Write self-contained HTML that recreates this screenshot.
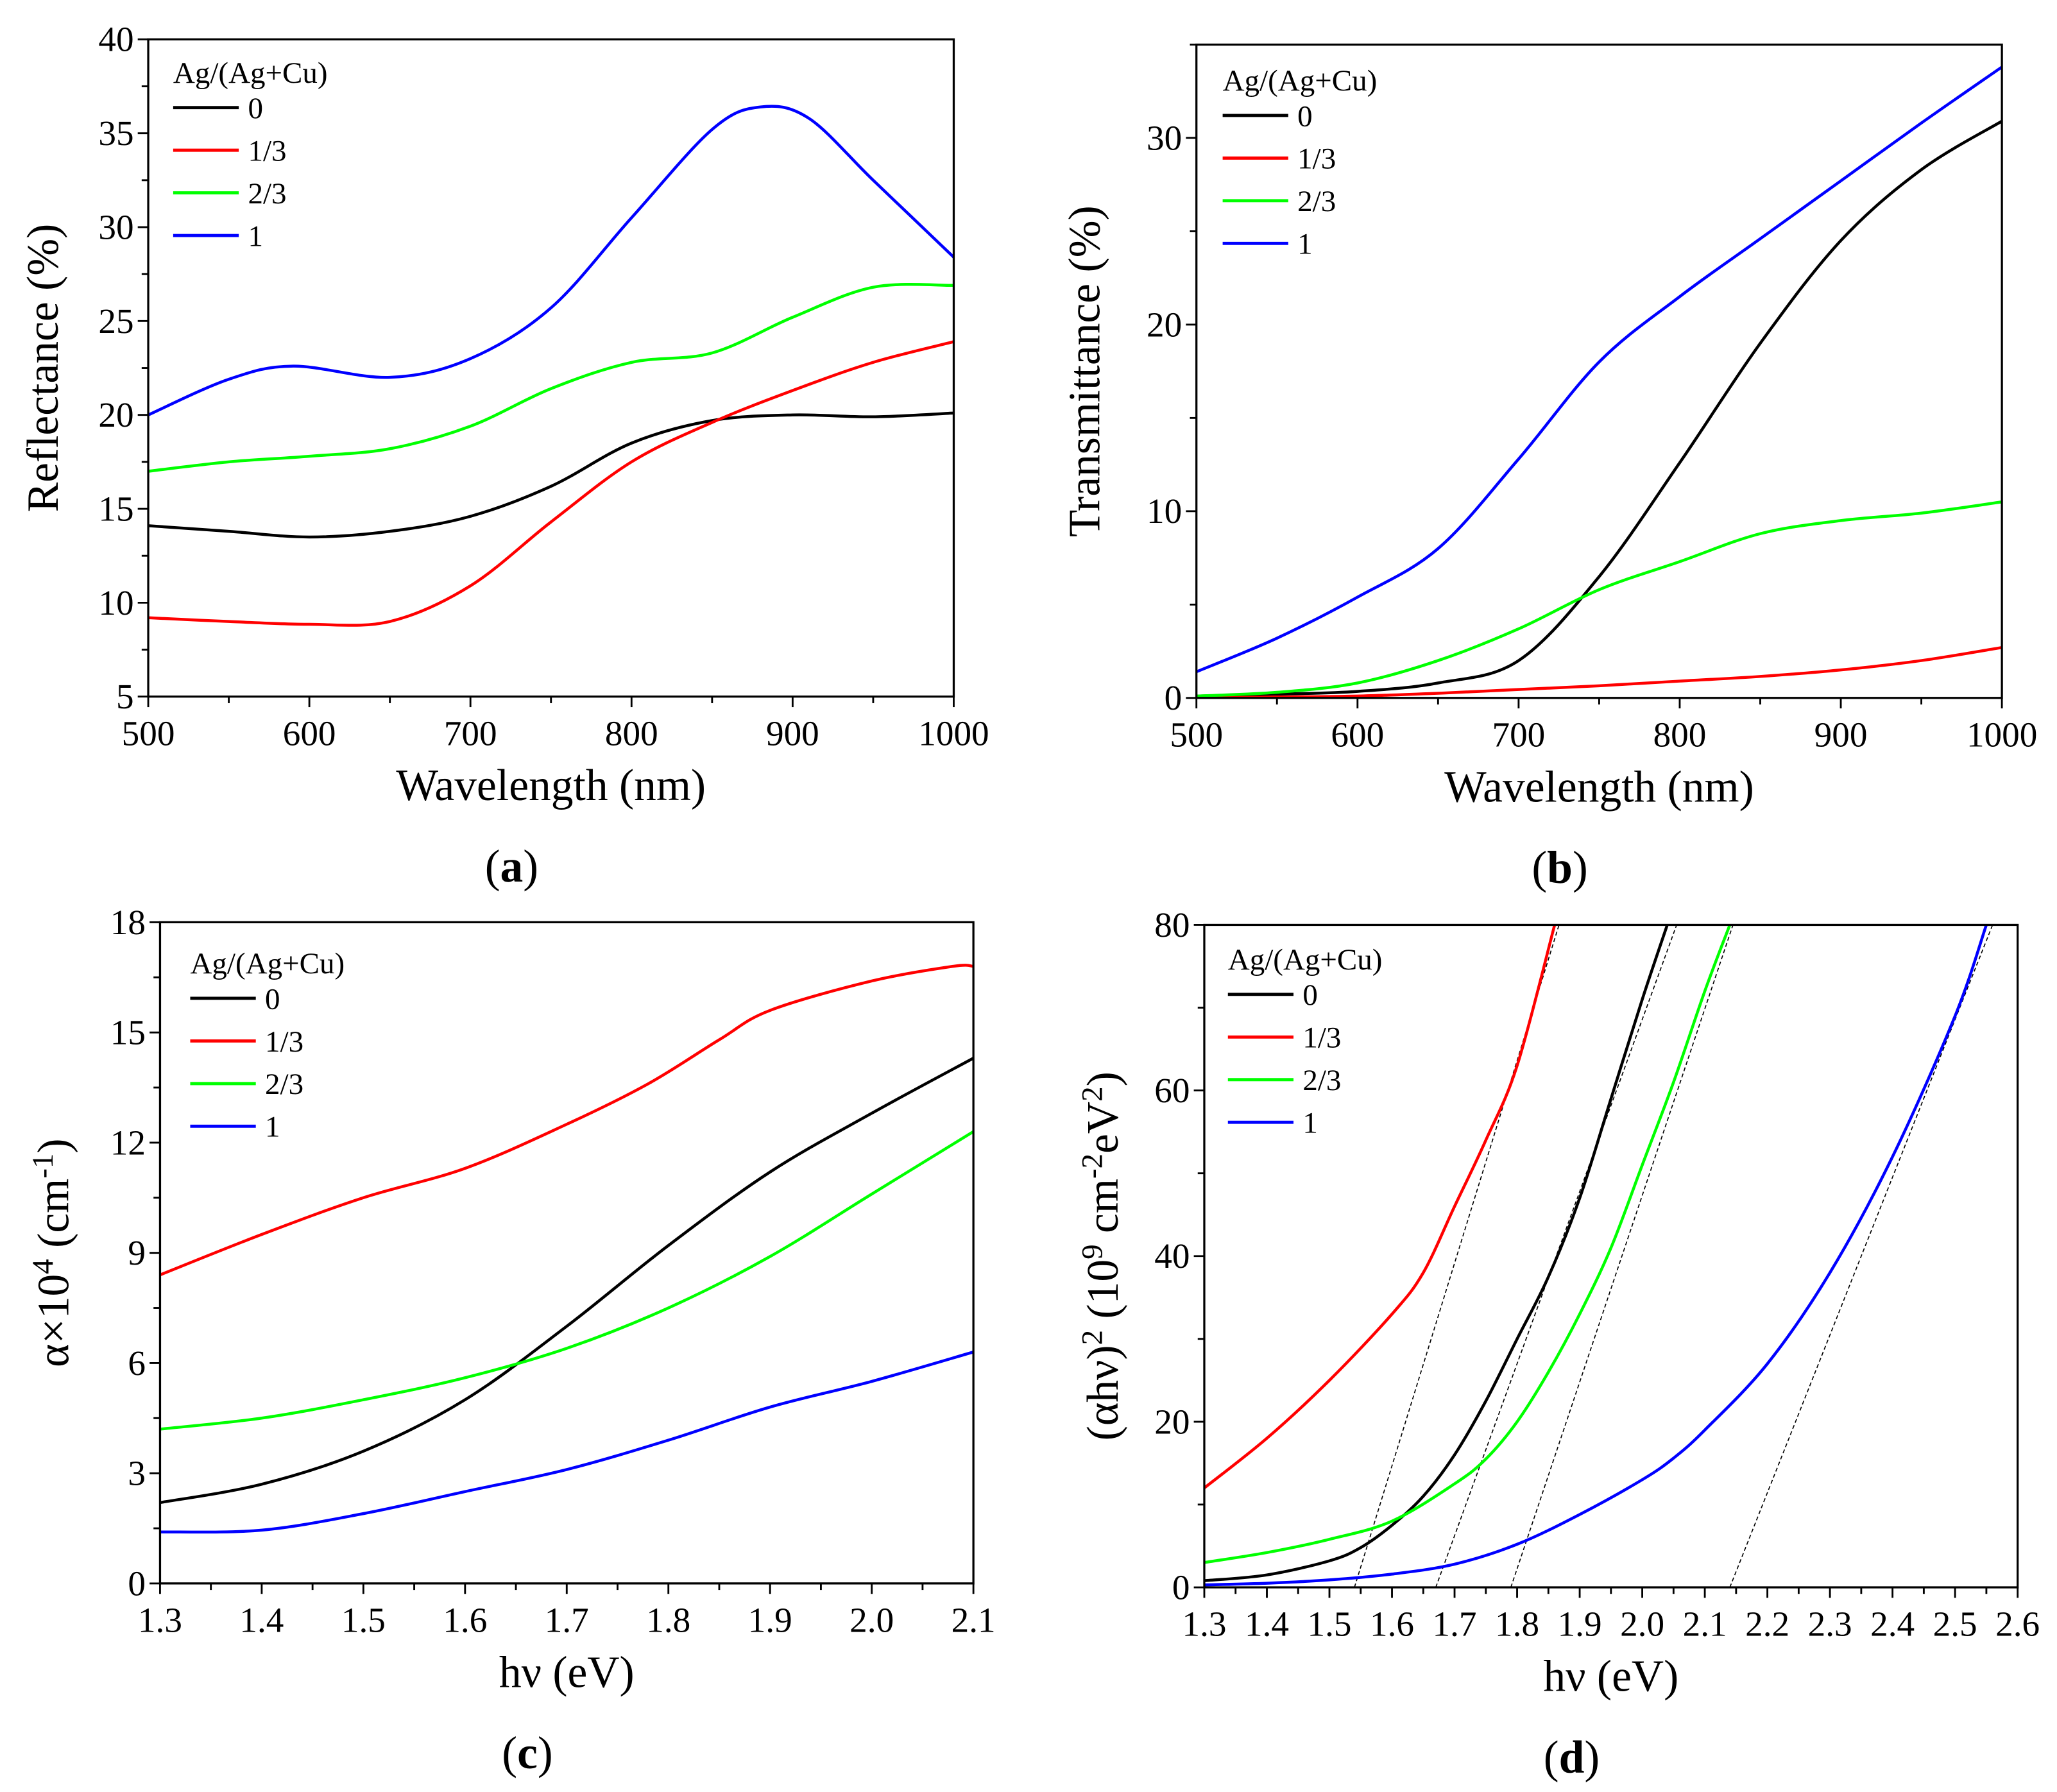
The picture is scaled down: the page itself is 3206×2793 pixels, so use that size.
<!DOCTYPE html>
<html><head><meta charset="utf-8"><style>
html,body{margin:0;padding:0;background:#fff;}
svg{display:block;font-family:"Liberation Serif",serif;}
svg text{font-family:"Liberation Serif",serif;}
</style></head><body>
<svg id="fig" width="3206" height="2793" viewBox="0 0 1568 1366" xmlns="http://www.w3.org/2000/svg"></svg>
<script>
// ---- Panel (a) Reflectance ----
const aWl = [500,550,600,650,700,750,800,850,900,950,1000];
const aBlack = [14.1,13.8,13.5,13.8,14.6,16.2,18.5,19.7,20.0,19.9,20.1];
const aRed = [9.2,9.0,8.85,9.0,10.9,14.3,17.5,19.6,21.3,22.8,23.9];
const aGreen = [17.0,17.5,17.8,18.2,19.4,21.4,22.8,23.3,25.2,26.8,26.9];
const aBlueWl = [500,550,590,650,700,750,800,850,880,910,950,1000];
const aBlue = [20.0,21.9,22.6,22.0,23.0,25.7,30.5,35.2,36.4,35.8,32.5,28.4];
// ---- Panel (b) Transmittance ----
const bWl = [500,550,600,650,700,750,800,850,900,950,1000];
const bBlack = [0.1,0.2,0.35,0.8,2.0,6.5,12.6,19.0,24.5,28.3,30.9];
const bRed = [0.0,0.05,0.1,0.25,0.45,0.65,0.9,1.15,1.5,2.0,2.7];
const bGreen = [0.1,0.3,0.8,2.0,3.7,5.8,7.3,8.8,9.5,9.9,10.5];
const bBlue = [1.4,3.2,5.4,8.0,12.8,18.0,21.5,24.6,27.7,30.8,33.8];
// ---- Panel (c) absorption ----
const cE = [1.3,1.4,1.5,1.6,1.7,1.8,1.9,2.0,2.1];
const cBlack = [2.2,2.7,3.6,5.0,7.0,9.2,11.2,12.8,14.3];
const cRedE = [1.3,1.4,1.5,1.6,1.7,1.78,1.85,1.9,2.0,2.08,2.1];
const cRed = [8.4,9.5,10.5,11.3,12.5,13.6,14.8,15.6,16.4,16.8,16.8];
const cGreen = [4.2,4.5,5.0,5.6,6.4,7.5,8.9,10.6,12.3];
const cBlue = [1.4,1.45,1.9,2.5,3.1,3.9,4.8,5.5,6.3];
// ---- Panel (d) Tauc ----
const dRedE = [1.3,1.4,1.5,1.6,1.65,1.7,1.75,1.8,1.86];
const dRed = [12,18,25,33,38,46,54,63,80];
const dBlackE = [1.3,1.4,1.5,1.55,1.6,1.65,1.7,1.75,1.8,1.85,1.9,1.95,2.0,2.04];
const dBlack = [0.8,1.5,3.2,4.8,7.5,11,16,22.5,30,37.5,47,59,71,80];
const dGreenE = [1.3,1.4,1.5,1.6,1.7,1.75,1.8,1.85,1.9,1.95,2.0,2.05,2.1,2.14];
const dGreen = [3,4.2,5.8,8,12.5,15.5,20,26,33,41,51,61,72,80];
const dBlueE = [1.3,1.4,1.5,1.6,1.7,1.8,1.9,2.0,2.05,2.1,2.2,2.3,2.4,2.5,2.55];
const dBlue = [0.3,0.5,0.9,1.6,2.8,5.2,8.8,13,15.6,19,27,38,52,69,80];
const dFitStart = [1.54,1.67,1.79,2.14];
const dFitEnd = [1.867,2.055,2.145,2.56];
const legendLabels = ["0","1/3","2/3","1"];
const colors = ["#000","#f00","#0f0","#00f"];

const NS="http://www.w3.org/2000/svg";
const svg=document.getElementById('fig');
function el(tag,attrs,parent){const e=document.createElementNS(NS,tag);for(const k in attrs)e.setAttribute(k,attrs[k]);(parent||svg).appendChild(e);return e;}
function txt(s,x,y,size,anchor,parent,extra){const t=el('text',Object.assign({x:x,y:y,'font-size':size,'text-anchor':anchor||'middle',fill:'#000'},extra||{}),parent);t.textContent=s;return t;}
function smooth(pts){let d='M'+pts[0][0].toFixed(2)+','+pts[0][1].toFixed(2);
 for(let i=0;i<pts.length-1;i++){const p0=pts[i-1]||pts[i],p1=pts[i],p2=pts[i+1],p3=pts[i+2]||p2;
  const c1=[p1[0]+(p2[0]-p0[0])/6,p1[1]+(p2[1]-p0[1])/6],c2=[p2[0]-(p3[0]-p1[0])/6,p2[1]-(p3[1]-p1[1])/6];
  d+=' C'+c1.map(v=>v.toFixed(2))+' '+c2.map(v=>v.toFixed(2))+' '+p2[0].toFixed(2)+','+p2[1].toFixed(2);}
 return d;}

function panel(cfg){
 const g=el('g',{});
 
 
 const X=v=>cfg.x0+(v-cfg.xmin)/(cfg.xmax-cfg.xmin)*(cfg.x1-cfg.x0);
 const Y=v=>cfg.y0-(v-cfg.ymin)/(cfg.ymax-cfg.ymin)*(cfg.y0-cfg.y1);
 const clip='clip-'+cfg.id;
 const cp=el('clipPath',{id:clip},g);el('rect',{x:cfg.x0,y:cfg.y1,width:cfg.x1-cfg.x0,height:cfg.y0-cfg.y1},cp);
 const plot=el('g',{'clip-path':'url(#'+clip+')'},g);
 
 
 (cfg.fits||[]).forEach(f=>{const l=el('line',{x1:X(f[0]),y1:Y(f[1]),x2:X(f[2]),y2:Y(f[3]),stroke:'#000','stroke-width':0.8,'stroke-dasharray':'3,2'},plot);
  
  });
 cfg.series.forEach((s,i)=>{const pts=s.x.map((v,j)=>[X(v),Y(s.y[j])]);
  const p=el('path',{d:smooth(pts),fill:'none',stroke:colors[i],'stroke-width':2.2},plot);
  
  });
 const ax=el('rect',{x:cfg.x0,y:cfg.y1,width:cfg.x1-cfg.x0,height:cfg.y0-cfg.y1,fill:'none',stroke:'#000','stroke-width':1.6},g);
 
 
 const xt=el('g',{},g);
 
 
 for(let v=cfg.xmin;v<=cfg.xmax+1e-9;v+=cfg.xstep/2){const major=Math.abs(Math.round((v-cfg.xmin)/cfg.xstep)*cfg.xstep-(v-cfg.xmin))<1e-6;
  el('line',{x1:X(v),x2:X(v),y1:cfg.y0,y2:cfg.y0+(major?8:5),stroke:'#000','stroke-width':1.4},xt);
  if(major)txt(cfg.xfmt(v),X(v),cfg.y0+37,cfg.tickSize,'middle',xt);}
 const yt=el('g',{},g);
 
 
 for(let v=cfg.ymin;v<=cfg.ymax+1e-9;v+=cfg.ystep/2){const major=Math.abs(Math.round((v-cfg.ymin)/cfg.ystep)*cfg.ystep-(v-cfg.ymin))<1e-6;
  el('line',{x1:cfg.x0,x2:cfg.x0-(major?8:5),y1:Y(v),y2:Y(v),stroke:'#000','stroke-width':1.4},yt);
  if(major)txt(cfg.yfmt(v),cfg.x0-11,Y(v)+9,cfg.tickSize,'end',yt);}
 const xtt=txt(cfg.xtitle,(cfg.x0+cfg.x1)/2,cfg.y0+79,34,'middle',g);
 
 
 const ytt=el('text',{x:0,y:0,'font-size':34,'text-anchor':'middle',transform:'translate('+cfg.ytx+','+((cfg.y0+cfg.y1)/2)+') rotate(-90)'},g);
 ytt.innerHTML=cfg.ytitle;
 
 
 const pl=el('text',{x:(cfg.x0+cfg.x1)/2-30,y:cfg.y0+141,'font-size':35,'text-anchor':'middle'},g);
 pl.innerHTML='(<tspan font-weight="bold">'+cfg.id+'</tspan>)';
 
 
 const lg=el('g',{},g);
 
 
 txt('Ag/(Ag+Cu)',cfg.lx,cfg.ly+8,23,'start',lg);
 legendLabels.forEach((s,i)=>{const yy=cfg.ly+27+i*32.5;
  const ln=el('line',{x1:cfg.lx,x2:cfg.lx+50,y1:yy,y2:yy,stroke:colors[i],'stroke-width':2.4},lg);
  
  
  txt(s,cfg.lx+57,yy+8,23,'start',lg);});
}
panel({id:'a',name:'panel-a-reflectance',x0:113,x1:727,y0:531,y1:30,xmin:500,xmax:1000,xstep:100,ymin:5,ymax:40,ystep:5,
 xfmt:v=>String(Math.round(v)),yfmt:v=>String(Math.round(v)),tickSize:27,xtitle:'Wavelength (nm)',ytitle:'Reflectance (%)',ytx:44,lx:132,ly:55,
 series:[{x:aWl,y:aBlack},{x:aWl,y:aRed},{x:aWl,y:aGreen},{x:aBlueWl,y:aBlue}]});
panel({id:'b',name:'panel-b-transmittance',x0:912,x1:1526,y0:532,y1:34,xmin:500,xmax:1000,xstep:100,ymin:0,ymax:35,ystep:10,
 xfmt:v=>String(Math.round(v)),yfmt:v=>v>30?'':String(Math.round(v)),tickSize:27,xtitle:'Wavelength (nm)',ytitle:'Transmittance (%)',ytx:838,lx:932,ly:61,
 series:[{x:bWl,y:bBlack},{x:bWl,y:bRed},{x:bWl,y:bGreen},{x:bWl,y:bBlue}]});
panel({id:'c',name:'panel-c-absorption',x0:122,x1:742,y0:1207,y1:703,xmin:1.3,xmax:2.1,xstep:0.1,ymin:0,ymax:18,ystep:3,
 xfmt:v=>v.toFixed(1),yfmt:v=>String(Math.round(v)),tickSize:27,xtitle:'hν (eV)',ytitle:'α×10<tspan dy="-12" font-size="23">4</tspan><tspan dy="12"> (cm</tspan><tspan dy="-12" font-size="23">-1</tspan><tspan dy="12">)</tspan>',ytx:52,lx:145,ly:734,
 series:[{x:cE,y:cBlack},{x:cRedE,y:cRed},{x:cE,y:cGreen},{x:cE,y:cBlue}]});
panel({id:'d',name:'panel-d-tauc',x0:918,x1:1538,y0:1210,y1:705,xmin:1.3,xmax:2.6,xstep:0.1,ymin:0,ymax:80,ystep:20,
 xfmt:v=>v.toFixed(1),yfmt:v=>String(Math.round(v)),tickSize:27,xtitle:'hν (eV)',ytitle:'(αhν)<tspan dy="-12" font-size="23">2</tspan><tspan dy="12"> (10</tspan><tspan dy="-12" font-size="23">9</tspan><tspan dy="12"> cm</tspan><tspan dy="-12" font-size="23">-2</tspan><tspan dy="12">eV</tspan><tspan dy="-12" font-size="23">2</tspan><tspan dy="12">)</tspan>',ytx:852,lx:936,ly:731,
 fits:dFitStart.map((s,i)=>[s,0,dFitEnd[i],80]),
 series:[{x:dBlackE,y:dBlack},{x:dRedE,y:dRed},{x:dGreenE,y:dGreen},{x:dBlueE,y:dBlue}]});
</script>
</body></html>
